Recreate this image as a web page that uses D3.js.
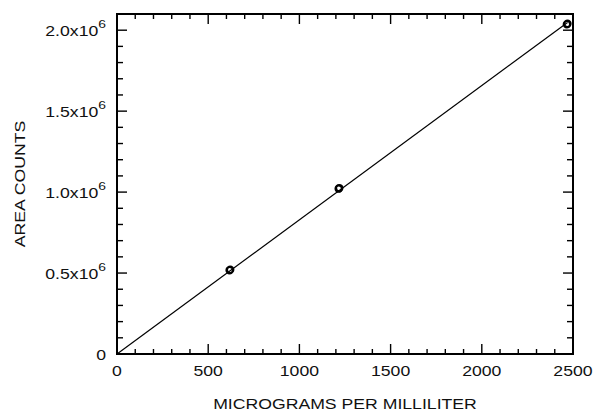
<!DOCTYPE html>
<html>
<head>
<meta charset="utf-8">
<script src="https://cdn.jsdelivr.net/npm/d3@7"></script>
<style>
  body { margin: 0; background: #fff; }
  text { font-family: "Liberation Sans", Arial, sans-serif; fill: #111; }
</style>
</head>
<body>
<svg id="chart" width="594" height="411"></svg>
<script>
// replicate injections, two per standard level
var conc = [617, 621, 1215, 1219, 2466, 2470];
var area = [0.517e6, 0.521e6, 1.021e6, 1.025e6, 2.036e6, 2.040e6];

var xMajor = [0, 500, 1000, 1500, 2000, 2500];
var yMajor = [0, 0.5e6, 1.0e6, 1.5e6, 2.0e6];
var yMantissa = ['0', '0.5', '1.0', '1.5', '2.0'];

var W = 594, H = 411;
var margin = {top: 14, right: 21, bottom: 57, left: 117};
var STRETCH = 1.26;

var svg = d3.select('#chart');
var x = d3.scaleLinear().domain([0, 2500]).range([margin.left, W - margin.right]);
var y = d3.scaleLinear().domain([0, 2.1e6]).range([H - margin.bottom, margin.top]);

// widen glyphs a bit, the reference font is broader than Helvetica
function widen(sel, k) {
	sel.each(function () {
		var len = this.getComputedTextLength();
		d3.select(this).attr('textLength', len * k).attr('lengthAdjust', 'spacingAndGlyphs');
	});
}

var xMinor = d3.range(0, 2501, 100).filter(function (d) { return d % 500; });
var yMinor = d3.range(0, 2.1e6, 1e5).filter(function (d) { return Math.round(d / 1e5) % 5; });

var ticks = svg.append('g').attr('stroke', '#000').attr('stroke-width', 1.4);
function vtick(v, len, top) {
	var x0 = x(v);
	var y0 = top ? y.range()[1] : y.range()[0];
	ticks.append('line').attr('x1', x0).attr('x2', x0)
		.attr('y1', y0).attr('y2', top ? y0 + len : y0 - len);
}
function htick(v, len, right) {
	var y0 = y(v);
	var x0 = right ? x.range()[1] : x.range()[0];
	ticks.append('line').attr('y1', y0).attr('y2', y0)
		.attr('x1', x0).attr('x2', right ? x0 - len : x0 + len);
}
xMajor.forEach(function (d) { vtick(d, 10, false); vtick(d, 10, true); });
xMinor.forEach(function (d) { vtick(d, 5, false); vtick(d, 5, true); });
yMajor.forEach(function (d) { htick(d, 10, false); htick(d, 10, true); });
yMinor.forEach(function (d) { htick(d, 6, false); htick(d, 6, true); });

// frame
svg.append('rect')
	.attr('x', x.range()[0]).attr('y', y.range()[1])
	.attr('width', x.range()[1] - x.range()[0])
	.attr('height', y.range()[0] - y.range()[1])
	.attr('fill', 'none').attr('stroke', '#000').attr('stroke-width', 2);

// x tick labels
var xl = svg.append('g').selectAll('text').data(xMajor).enter().append('text')
	.attr('x', function (d) { return x(d); })
	.attr('y', y.range()[0] + 22)
	.attr('text-anchor', 'middle')
	.attr('font-size', 14)
	.text(function (d) { return d; });
widen(xl, STRETCH);

// y tick labels
var yl = svg.append('g').selectAll('text').data(yMajor).enter().append('text')
	.attr('x', x.range()[0] - 11)
	.attr('y', function (d) { return y(d) + 6; })
	.attr('text-anchor', 'end')
	.attr('font-size', 14)
	.each(function (d, i) {
		var t = d3.select(this);
		if (d === 0) { t.text('0'); return; }
		t.append('tspan').text(yMantissa[i] + 'x10');
		t.append('tspan').attr('dy', -8).attr('font-size', 11).text('6');
	});
widen(yl, STRETCH);

// axis titles
var xt = svg.append('text')
	.attr('x', (x.range()[0] + x.range()[1]) / 2)
	.attr('y', H - 2)
	.attr('text-anchor', 'middle')
	.attr('font-size', 14)
	.text('MICROGRAMS PER MILLILITER');
widen(xt, STRETCH);

var yt = svg.append('text')
	.attr('transform', 'translate(25,' + (y.range()[0] + y.range()[1]) / 2 + ') rotate(-90)')
	.attr('text-anchor', 'middle')
	.attr('font-size', 14)
	.text('AREA COUNTS');
widen(yt, STRETCH);

// least squares through origin
var slope = d3.sum(conc, function (c, i) { return c * area[i]; }) / d3.sum(conc, function (c) { return c * c; });
var xEnd = d3.max(conc);
svg.append('line')
	.attr('x1', x(0)).attr('y1', y(0))
	.attr('x2', x(xEnd)).attr('y2', y(slope * xEnd))
	.attr('stroke', '#000').attr('stroke-width', 1.2);

svg.append('g').selectAll('circle').data(conc).enter().append('circle')
	.attr('cx', function (d) { return x(d); })
	.attr('cy', function (d, i) { return y(area[i]); })
	.attr('r', 3.2)
	.attr('fill', 'none')
	.attr('stroke', '#000')
	.attr('stroke-width', 1.9);
</script>
</body>
</html>
